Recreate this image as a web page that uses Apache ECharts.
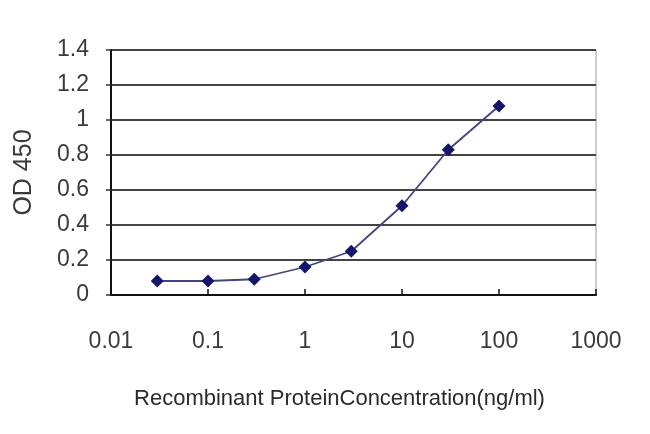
<!DOCTYPE html>
<html>
<head>
<meta charset="utf-8">
<script src="https://cdn.jsdelivr.net/npm/echarts@6/dist/echarts.min.js"></script>
<style>html,body{margin:0;padding:0;background:#fff}#c{width:650px;height:434px}</style>
</head>
<body>
<div id="c"></div>
<script>
const concentrations = [0.03, 0.1, 0.3, 1, 3, 10, 30, 100];
const od450 = [0.08, 0.08, 0.09, 0.16, 0.25, 0.51, 0.83, 1.08];
const xTickLabels = ['0.01', '0.1', '1', '10', '100', '1000'];
const yTickLabels = ['0', '0.2', '0.4', '0.6', '0.8', '1', '1.2', '1.4'];
const xTitle = 'Recombinant ProteinConcentration(ng/ml)';
const yTitle = 'OD 450';

const chart = echarts.init(document.getElementById('c'), null, {renderer: 'canvas'});
const regular = '"Liberation Sans", Arial, sans-serif';
chart.setOption({
  animation: false,
  backgroundColor: '#fff',
  grid: {left: 111, right: 54, top: 50, bottom: 139, show: true, borderColor: '#9a9a9a', borderWidth: 1,
         containLabel: false, outerBoundsMode: 'none'},
  xAxis: {
    type: 'log', logBase: 10, min: 0.01, max: 1000,
    axisLine: {show: true, lineStyle: {color: '#111', width: 2}},
    axisTick: {show: true, inside: true, length: 6, lineStyle: {color: '#111', width: 1.5}},
    splitLine: {show: false},
    axisLabel: {
      margin: 35, fontFamily: regular, fontSize: 23, color: '#3a3a3a',
      formatter: function (v) {
        const i = Math.round(Math.log10(v)) + 2;
        return xTickLabels[i] !== undefined ? xTickLabels[i] : '';
      }
    },
    name: xTitle, nameLocation: 'middle', nameGap: 93,
    nameTextStyle: {fontFamily: regular, fontSize: 22, color: '#2a2a2a', padding: [0, 28, 0, 0]}
  },
  yAxis: {
    type: 'value', min: 0, max: 1.4, interval: 0.2,
    axisLine: {show: true, lineStyle: {color: '#111', width: 2}},
    axisTick: {show: true, inside: false, length: 5, lineStyle: {color: '#333', width: 1.5}},
    splitLine: {show: true, lineStyle: {color: '#444', width: 2}},
    axisLabel: {
      margin: 22, fontFamily: regular, fontSize: 23, color: '#3a3a3a',
      formatter: function (v) {
        const i = Math.round(v / 0.2);
        return yTickLabels[i] !== undefined ? yTickLabels[i] : '';
      }
    },
    name: yTitle, nameLocation: 'middle', nameGap: 74, nameRotate: 90,
    nameTextStyle: {fontFamily: regular, fontSize: 25, color: '#3a3a3a'}
  },
  series: [{
    type: 'line',
    data: concentrations.map((c, i) => [c, od450[i]]),
    symbol: 'diamond', symbolSize: 13,
    itemStyle: {color: '#15166b'},
    lineStyle: {color: '#45457e', width: 1.8}
  }]
});
</script>
</body>
</html>
